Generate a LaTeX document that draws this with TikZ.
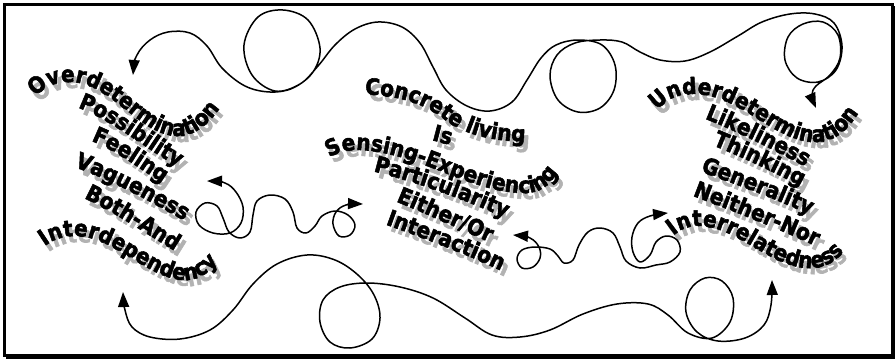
\documentclass[tikz,border=0pt]{standalone}
\usepackage{fontspec}
\newfontfamily\wfont{DejaVu Sans Bold}[FakeBold=2.5]
\usetikzlibrary{decorations.text,arrows.meta}
\definecolor{shadowgray}{gray}{0.70}
\newcommand\wf{\wfont\fontsize{20}{20}\selectfont}
\newcommand\wline[2]{%
  \path[decorate,decoration={text effects along path,text={#1},text align=center,
    text effects/.cd,text along path,
    characters={font=\wf,text=shadowgray,inner sep=0pt,yscale=1.12}},shift={(4,6)}] #2;
  \path[decorate,decoration={text effects along path,text={#1},text align=center,
    text effects/.cd,text along path,
    characters={font=\wf,text=black,inner sep=0pt,yscale=1.12}}] #2;
}
\tikzset{
  curly/.style={line width=1.5pt,line cap=round,line join=round,
    {Triangle[length=15pt,width=11pt]}-{Triangle[length=15pt,width=11pt]}},
}
\begin{document}
\begin{tikzpicture}[x=1pt,y=-1pt]
\useasboundingbox (0,0) rectangle (895,359);
% frame
\draw[line width=3pt] (4.5,4.5) rectangle (892,355);
\fill (6,354) rectangle (895,359);
\fill (891,6) rectangle (895,359);

% left block
\wline{Overdetermination}{(24,112) .. controls (38,90) and (50,82) .. (70,82) .. controls (110,82) and (140,136) .. (178,136) .. controls (198,136) and (214,120) .. (230,92)}
\wline{Possibility}{(70,105) .. controls (110,117) and (140,146) .. (185,171)}
\wline{Feeling}{(86,139) .. controls (115,149) and (135,166) .. (167,186)}
\wline{Vagueness}{(66,164) .. controls (110,179) and (150,201) .. (192,225)}
\wline{Both-And}{(75,194) .. controls (110,209) and (145,233) .. (183,256)}
\wline{Interdependency}{(28,264) .. controls (44,242) and (58,236) .. (78,236) .. controls (115,238) and (150,280) .. (185,280) .. controls (202,280) and (217,268) .. (232,242)}

% middle block
\wline{Concrete living}{(350,94) .. controls (390,94) and (420,100) .. (445,120) .. controls (470,138) and (500,142) .. (540,142)}
\wline{Is}{(420,137) -- (462,148)}
\wline{Sensing-Experiencing}{(314,172) .. controls (330,154) and (340,150) .. (360,150) .. controls (420,153) and (470,193) .. (525,193) .. controls (544,193) and (556,180) .. (568,154)}
\wline{Particularity}{(364,169) .. controls (410,180) and (460,197) .. (514,222)}
\wline{Either/Or}{(385,197) .. controls (420,211) and (460,229) .. (500,247)}
\wline{Interaction}{(376,221) .. controls (420,237) and (465,253) .. (510,275)}

% right block
\wline{Underdetermination}{(648,122) .. controls (663,100) and (675,94) .. (695,94) .. controls (740,95) and (775,142) .. (815,142) .. controls (836,142) and (850,130) .. (866,100)}
\wline{Likeliness}{(698,116) .. controls (735,130) and (770,148) .. (812,170)}
\wline{Thinking}{(707,143) .. controls (740,156) and (770,170) .. (806,189)}
\wline{Generality}{(696,170) .. controls (735,184) and (775,198) .. (814,217)}
\wline{Neither-Nor}{(688,194) .. controls (730,210) and (775,227) .. (820,248)}
\wline{Interrelatedness}{(660,252) .. controls (673,232) and (684,226) .. (700,226) .. controls (740,228) and (770,268) .. (810,268) .. controls (829,268) and (842,258) .. (856,234)}

% connectors
\draw[curly] plot[smooth,tension=0.6] coordinates {(133,75) (137,55) (150,40) (168,32) (190,33) (207,46) (222,68) (245,86) (270,92) (293,88) (313,72) (320,48) (308,20) (283,10) (258,17) (244,45) (252,75) (275,91) (300,84) (318,66) (335,45) (355,29) (378,22) (402,27) (420,43) (433,67) (446,90) (467,106) (490,111) (512,102) (527,80) (541,58) (556,45) (578,40) (602,45) (615,65) (614,90) (600,108) (578,112) (558,100) (550,76) (557,55) (575,43) (600,40) (622,42) (640,52) (660,60) (685,61) (710,52) (738,36) (762,22) (790,14) (815,14) (834,23) (842,46) (836,70) (818,82) (797,78) (785,60) (788,37) (803,24) (823,22) (838,35) (840,58) (830,75) (816,86) (812,95) (816,108)};

\draw[curly] plot[smooth,tension=0.6] coordinates {(123,292) (125,310) (132,327) (150,337) (180,339) (210,330) (233,310) (253,284) (277,264) (307,255) (335,260) (358,275) (374,295) (380,318) (372,339) (350,348) (330,342) (320,322) (323,300) (340,287) (367,283) (400,287) (433,298) (465,318) (492,335) (520,337) (550,330) (583,314) (617,304) (648,304) (668,315) (688,333) (712,338) (730,322) (733,298) (722,281) (705,278) (690,290) (686,312) (697,332) (718,341) (745,338) (764,325) (771,305) (772,280)};

\draw[curly] plot[smooth,tension=0.6] coordinates {(207,181) (225,183) (236,192) (243,207) (241,223) (230,233) (213,233) (199,225) (196,212) (205,203) (217,206) (223,218) (229,232) (240,238) (250,232) (253,215) (257,201) (270,195) (285,199) (293,212) (297,228) (306,233) (315,226) (322,216) (335,211) (348,215) (355,225) (350,235) (339,236) (333,224) (336,212) (346,205) (363,204)};

\draw[curly] plot[smooth,tension=0.6] coordinates {(513,235) (530,238) (539,247) (540,258) (533,267) (522,268) (517,259) (522,250) (535,247) (550,249) (558,256) (564,263) (573,260) (579,245) (588,232) (600,228) (613,233) (620,247) (626,261) (640,268) (656,265) (670,262) (680,252) (677,240) (666,236) (656,242) (650,255) (640,262) (633,252) (632,237) (638,223) (650,216) (668,213)};
\end{tikzpicture}
\end{document}
